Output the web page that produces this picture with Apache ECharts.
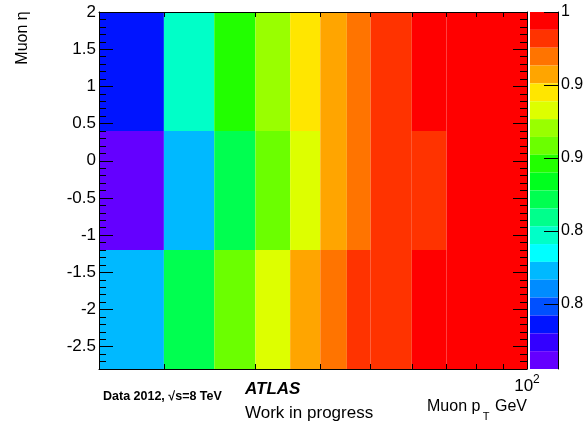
<!DOCTYPE html>
<html>
<head>
<meta charset="utf-8">
<script src="https://cdn.jsdelivr.net/npm/echarts@6/dist/echarts.min.js"></script>
<style>
  html, body { margin: 0; padding: 0; background: #fff; }
  #main { width: 584px; height: 423px; }
</style>
</head>
<body>
<div id="main"></div>
<script>
// bin edges (pt in GeV, eta)
var ptEdges = [15, 20, 25, 30, 35, 40, 45, 50, 60, 70, 100];
var etaEdges = [-2.8, -1.2, 0.4, 2.0];

// efficiency per eta row, one value per pt bin
var effLow  = [0.823, 0.872, 0.908, 0.933, 0.957, 0.969, 0.982, 0.984, 0.993, 0.995]; // -2.8 .. -1.2
var effMid  = [0.756, 0.823, 0.872, 0.908, 0.933, 0.957, 0.969, 0.980, 0.983, 0.994]; // -1.2 .. 0.4
var effHigh = [0.786, 0.847, 0.896, 0.921, 0.945, 0.957, 0.969, 0.982, 0.994, 0.999]; //  0.4 .. 2.0

// tick values
var xTicks = [20, 30, 40, 50, 60, 70, 80, 90, 100];
var xLabels = [100];
var yMajor = [-2.5, -2, -1.5, -1, -0.5, 0, 0.5, 1, 1.5, 2];
var zTicks = [0.8, 0.85, 0.9, 0.95, 1];
var zMin = 0.7555, zMax = 1;

// root-like rainbow palette, 20 contour levels (low -> high)
var palette = [
  '#6400ff', '#3300ff', '#0014ff', '#0050ff', '#008cff',
  '#00b9ff', '#00ffff', '#00ffc8', '#00ff8c', '#00ff50',
  '#00ff1e', '#22ff00', '#6bff00', '#99ff00', '#ddff00',
  '#ffe600', '#ffa500', '#ff7400', '#ff3300', '#ff0000'
];

var FONT = 'Liberation Sans';

var cells = [];
[effLow, effMid, effHigh].forEach(function (row, j) {
  row.forEach(function (v, i) {
    cells.push([ptEdges[i], ptEdges[i + 1], etaEdges[j], etaEdges[j + 1], v]);
  });
});

var step = (zMax - zMin) / palette.length;
var pieces = palette.map(function (c, i) {
  return { gte: zMin + i * step, lt: zMin + (i + 1) * step + (i == palette.length - 1 ? 1e-6 : 0), color: c };
});

function renderCell(params, api) {
  var p0 = api.coord([api.value(0), api.value(3)]);
  var p1 = api.coord([api.value(1), api.value(2)]);
  return {
    type: 'rect',
    shape: { x: p0[0], y: p0[1], width: p1[0] - p0[0], height: p1[1] - p0[1] },
    style: { fill: api.visual('color') }
  };
}

var black = { color: '#000', width: 1 };

function yAxisCfg(pos, minor) {
  return {
    gridIndex: 0, type: 'value', min: -2.8, max: 2, position: pos, z: 10,
    interval: minor ? 0.1 : undefined,
    axisLine: { show: !minor, onZero: false, lineStyle: black },
    axisTick: minor
      ? { inside: true, length: 7, lineStyle: black }
      : { inside: true, length: 14, customValues: yMajor, lineStyle: black },
    axisLabel: (!minor && pos == 'left')
      ? { customValues: yMajor, fontSize: 17, color: '#000', margin: 3, fontFamily: FONT }
      : { show: false },
    splitLine: { show: false }
  };
}

function xAxisCfg(pos) {
  return {
    gridIndex: 0, type: 'log', min: 15, max: 100, position: pos, z: 10,
    axisLine: { onZero: false, lineStyle: black },
    axisTick: { inside: true, length: 5, customValues: xTicks, lineStyle: black },
    axisLabel: pos == 'bottom' ? {
      customValues: xLabels, margin: 5, color: '#000',
      formatter: function () { return '{a|10}{b|2}'; },
      rich: {
        a: { fontSize: 17, lineHeight: 25, fontFamily: FONT, color: '#000' },
        b: { fontSize: 12, lineHeight: 12, verticalAlign: 'top', fontFamily: FONT, color: '#000' }
      }
    } : { show: false },
    splitLine: { show: false },
    minorTick: { show: false }
  };
}

var chart = echarts.init(document.getElementById('main'));

var option = {
  animation: false,
  backgroundColor: '#fff',
  textStyle: { fontFamily: FONT },
  grid: [
    { left: 99, top: 12, width: 428, height: 357, outerBoundsMode: 'none', containLabel: false },
    { left: 530, top: 12, width: 28, height: 357, outerBoundsMode: 'none', containLabel: false }
  ],
  xAxis: [
    xAxisCfg('bottom'),
    xAxisCfg('top'),
    { gridIndex: 1, type: 'value', min: 0, max: 1, show: false }
  ],
  yAxis: [
    yAxisCfg('left', false),
    yAxisCfg('left', true),
    yAxisCfg('right', false),
    yAxisCfg('right', true),
    {
      gridIndex: 1, type: 'value', min: zMin, max: zMax, position: 'right', z: 10,
      axisLine: { onZero: false, lineStyle: black },
      axisTick: { inside: true, length: 14, customValues: zTicks, lineStyle: black },
      axisLabel: { customValues: zTicks, fontSize: 16, color: '#000', margin: 3, fontFamily: FONT },
      splitLine: { show: false }
    }
  ],
  visualMap: {
    type: 'piecewise',
    seriesIndex: 0,
    dimension: 4,
    pieces: pieces,
    orient: 'vertical',
    left: 530,
    top: 12,
    padding: 0,
    itemWidth: 28,
    itemHeight: 357 / palette.length,
    itemGap: 0,
    itemSymbol: 'rect',
    showLabel: false,
    selectedMode: false,
    hoverLink: false
  },
  series: [
    {
      type: 'custom',
      xAxisIndex: 0,
      yAxisIndex: 0,
      renderItem: renderCell,
      encode: { x: [0, 1], y: [2, 3] },
      data: cells
    },
    { type: 'line', xAxisIndex: 2, yAxisIndex: 4, data: [] }
  ],
  graphic: [
    { type: 'text', x: 23, y: 38, rotation: Math.PI / 2,
      style: { text: 'Muon η', font: '16px "Liberation Sans"', fill: '#000', textAlign: 'center', textVerticalAlign: 'middle' } },
    { type: 'text', x: 427, y: 407,
      style: { text: 'Muon p', font: '16px "Liberation Sans"', fill: '#000', textAlign: 'left', textVerticalAlign: 'middle' } },
    { type: 'text', x: 486, y: 417,
      style: { text: 'T', font: '11px "Liberation Sans"', fill: '#000', textAlign: 'center', textVerticalAlign: 'middle' } },
    { type: 'text', x: 495, y: 407,
      style: { text: 'GeV', font: '16px "Liberation Sans"', fill: '#000', textAlign: 'left', textVerticalAlign: 'middle' } },
    { type: 'text', x: 245, y: 389,
      style: { text: 'ATLAS', font: 'italic bold 17px "Liberation Sans"', fill: '#000', textAlign: 'left', textVerticalAlign: 'middle' } },
    { type: 'text', x: 245, y: 413,
      style: { text: 'Work in progress', font: '17px "Liberation Sans"', fill: '#000', textAlign: 'left', textVerticalAlign: 'middle' } },
    { type: 'text', x: 103, y: 397,
      style: { text: 'Data 2012, √s=8 TeV', font: 'bold 12.5px "Liberation Sans"', fill: '#000', textAlign: 'left', textVerticalAlign: 'middle' } }
  ]
};

chart.setOption(option);
</script>
</body>
</html>
